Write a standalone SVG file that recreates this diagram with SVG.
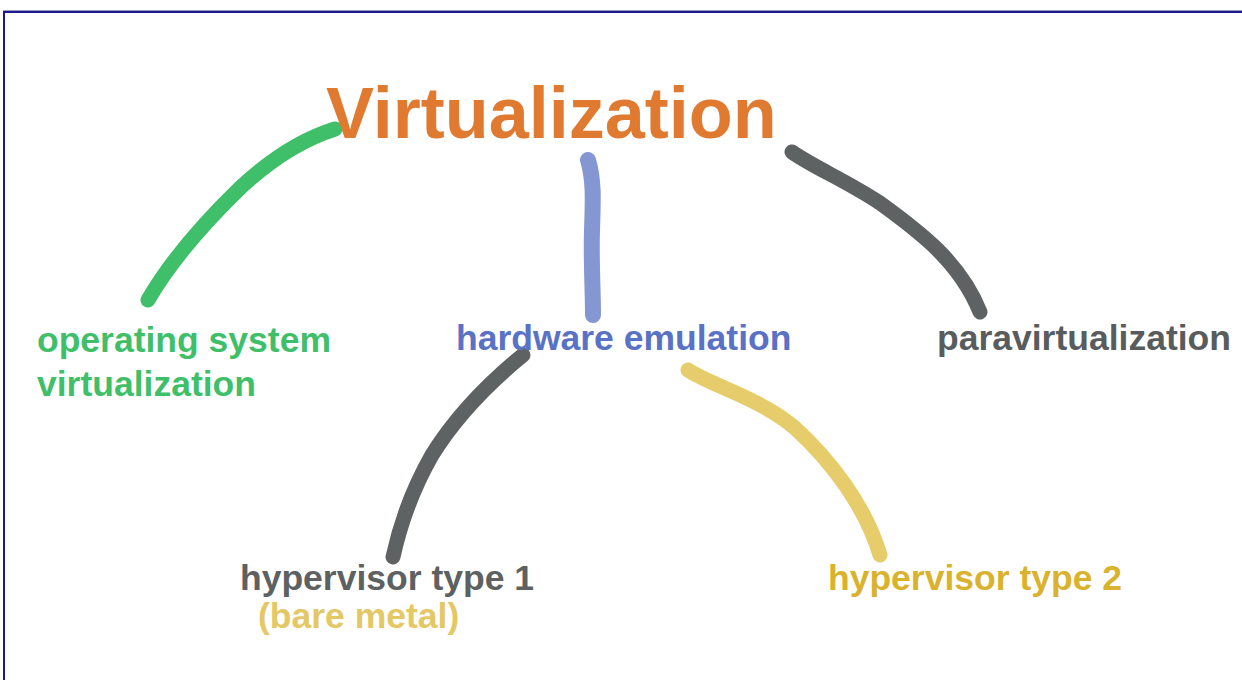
<svg xmlns="http://www.w3.org/2000/svg" width="1242" height="680" viewBox="0 0 1242 680">
<style>
.t{font-family:"Liberation Sans",Arial,sans-serif;font-weight:bold;font-size:35.5px}
.c{fill:none;stroke-width:15;stroke-linecap:round;stroke-linejoin:round}
</style>
<rect width="1242" height="680" fill="#ffffff"/>
<g id="frame">
<line x1="3" y1="10.5" x2="1242" y2="10.5" stroke="#9a9ac8" stroke-width="1"/>
<line x1="3" y1="12" x2="1242" y2="12" stroke="#1a1a8c" stroke-width="2"/>
<line x1="4" y1="11" x2="4" y2="680" stroke="#1a1a8c" stroke-width="2"/>
</g>
<g id="connectors">
<path class="c" stroke="#3fbf69" d="M335,129 C300,140 270,160 240,188 C205,222 170,262 148,300"/>
<path class="c" stroke="#8597d2" style="stroke-width:16" d="M588,160 C594,180 593,200 592,230 C591,260 593,290 593,315"/>
<path class="c" stroke="#5f6262" d="M792,152 C815,168 845,180 880,203 C920,232 960,262 980,312"/>
<path class="c" stroke="#5f6262" d="M523,355 C490,382 455,418 432,455 C412,490 400,525 393,557"/>
<path class="c" stroke="#e6cc6a" d="M688,370 C710,385 760,398 795,428 C830,460 865,505 880,555"/>
</g>
<g id="virtualization"><text x="326" y="138" style="font-family:'Liberation Sans',Arial,sans-serif;font-weight:bold;font-size:72px" fill="#e07a31">Virtualization</text></g>
<g id="os-virtualization"><text class="t" x="37" y="352" fill="#3fbf69">operating system</text><text class="t" x="37" y="396" fill="#3fbf69">virtualization</text></g>
<g id="hardware-emulation"><text class="t" x="456" y="350" fill="#5a72c6">hardware emulation</text></g>
<g id="paravirtualization"><text class="t" x="937" y="350" fill="#585c5c">paravirtualization</text></g>
<g id="hypervisor-type-1"><text class="t" x="240" y="590" fill="#5d6161">hypervisor type 1</text><text class="t" x="258" y="628" fill="#e4c866">(bare metal)</text></g>
<g id="hypervisor-type-2"><text class="t" x="828" y="590" fill="#d9b22e">hypervisor type 2</text></g>
</svg>
